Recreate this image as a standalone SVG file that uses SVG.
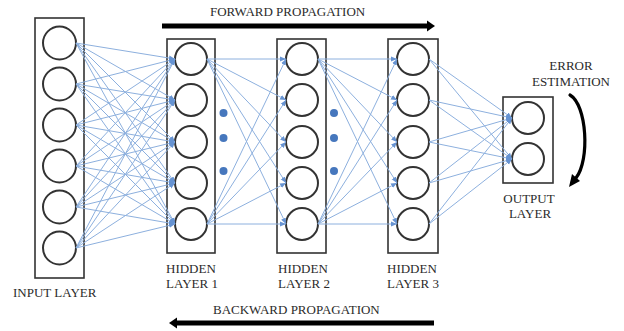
<svg xmlns="http://www.w3.org/2000/svg" width="624" height="331" viewBox="0 0 624 331">
<defs>
<style>
.box{fill:#fff;stroke:#333;stroke-width:1.6}
.node{fill:#fff;stroke:#333;stroke-width:2}
.lbl{font-family:"Liberation Serif","Times New Roman",serif;font-size:13px;fill:#2b2b2b}
.c line{stroke:#8db0de;stroke-width:1}
.dot{fill:#4677bd}
</style>
<marker id="ah" markerUnits="userSpaceOnUse" markerWidth="7" markerHeight="6" refX="6" refY="3" orient="auto">
<path d="M0,0.5 L6,3 L0,5.5 Z" fill="#6693d2"/>
</marker>
</defs>
<rect width="624" height="331" fill="#fff"/>

<g id="input-layer">
<rect class="box" x="35" y="18" width="49" height="260"/>
<circle class="node" cx="59.5" cy="43" r="16.5"/>
<circle class="node" cx="59.5" cy="84" r="16.5"/>
<circle class="node" cx="59.5" cy="125" r="16.5"/>
<circle class="node" cx="59.5" cy="166" r="16.5"/>
<circle class="node" cx="59.5" cy="207" r="16.5"/>
<circle class="node" cx="59.5" cy="248" r="16.5"/>
<text class="lbl" x="13" y="297">INPUT LAYER</text>
</g>

<g id="hidden-layer-1">
<rect class="box" x="167" y="39" width="48" height="214"/>
<circle class="node" cx="191" cy="59" r="16"/>
<circle class="node" cx="191" cy="100" r="16"/>
<circle class="node" cx="191" cy="142" r="16"/>
<circle class="node" cx="191" cy="183" r="16"/>
<circle class="node" cx="191" cy="224" r="16"/>
<text class="lbl" x="166" y="273">HIDDEN</text>
<text class="lbl" x="166" y="288">LAYER 1</text>
</g>

<g id="hidden-layer-2">
<rect class="box" x="277" y="39" width="49" height="214"/>
<circle class="node" cx="302" cy="59" r="16"/>
<circle class="node" cx="302" cy="100" r="16"/>
<circle class="node" cx="302" cy="142" r="16"/>
<circle class="node" cx="302" cy="183" r="16"/>
<circle class="node" cx="302" cy="224" r="16"/>
<text class="lbl" x="278" y="273">HIDDEN</text>
<text class="lbl" x="278" y="288">LAYER 2</text>
</g>

<g id="hidden-layer-3">
<rect class="box" x="388" y="39" width="50" height="214"/>
<circle class="node" cx="413" cy="59" r="16"/>
<circle class="node" cx="413" cy="100" r="16"/>
<circle class="node" cx="413" cy="142" r="16"/>
<circle class="node" cx="413" cy="183" r="16"/>
<circle class="node" cx="413" cy="224" r="16"/>
<text class="lbl" x="387" y="273">HIDDEN</text>
<text class="lbl" x="387" y="288">LAYER 3</text>
</g>

<g id="output-layer">
<rect class="box" x="503" y="97" width="50" height="86"/>
<circle class="node" cx="528" cy="118" r="16"/>
<circle class="node" cx="528" cy="159" r="16"/>
<text class="lbl" x="529" y="203" text-anchor="middle">OUTPUT</text>
<text class="lbl" x="530" y="218" text-anchor="middle">LAYER</text>
</g>

<g id="dots-1">
<circle class="dot" cx="223.5" cy="113" r="4"/>
<circle class="dot" cx="223.5" cy="138" r="4"/>
<circle class="dot" cx="223.5" cy="171" r="4"/>
</g>
<g id="dots-2">
<circle class="dot" cx="334" cy="113" r="4"/>
<circle class="dot" cx="334" cy="138" r="4"/>
<circle class="dot" cx="334" cy="171" r="4"/>
</g>

<g id="connectors" class="c">
<line x1="76" y1="43" x2="175" y2="59" marker-end="url(#ah)"/>
<line x1="76" y1="43" x2="175" y2="100" marker-end="url(#ah)"/>
<line x1="76" y1="43" x2="175" y2="142" marker-end="url(#ah)"/>
<line x1="76" y1="43" x2="175" y2="183" marker-end="url(#ah)"/>
<line x1="76" y1="43" x2="175" y2="224" marker-end="url(#ah)"/>
<line x1="76" y1="84" x2="175" y2="59" marker-end="url(#ah)"/>
<line x1="76" y1="84" x2="175" y2="100" marker-end="url(#ah)"/>
<line x1="76" y1="84" x2="175" y2="142" marker-end="url(#ah)"/>
<line x1="76" y1="84" x2="175" y2="183" marker-end="url(#ah)"/>
<line x1="76" y1="84" x2="175" y2="224" marker-end="url(#ah)"/>
<line x1="76" y1="125" x2="175" y2="59" marker-end="url(#ah)"/>
<line x1="76" y1="125" x2="175" y2="100" marker-end="url(#ah)"/>
<line x1="76" y1="125" x2="175" y2="142" marker-end="url(#ah)"/>
<line x1="76" y1="125" x2="175" y2="183" marker-end="url(#ah)"/>
<line x1="76" y1="125" x2="175" y2="224" marker-end="url(#ah)"/>
<line x1="76" y1="166" x2="175" y2="59" marker-end="url(#ah)"/>
<line x1="76" y1="166" x2="175" y2="100" marker-end="url(#ah)"/>
<line x1="76" y1="166" x2="175" y2="142" marker-end="url(#ah)"/>
<line x1="76" y1="166" x2="175" y2="183" marker-end="url(#ah)"/>
<line x1="76" y1="166" x2="175" y2="224" marker-end="url(#ah)"/>
<line x1="76" y1="207" x2="175" y2="59" marker-end="url(#ah)"/>
<line x1="76" y1="207" x2="175" y2="100" marker-end="url(#ah)"/>
<line x1="76" y1="207" x2="175" y2="142" marker-end="url(#ah)"/>
<line x1="76" y1="207" x2="175" y2="183" marker-end="url(#ah)"/>
<line x1="76" y1="207" x2="175" y2="224" marker-end="url(#ah)"/>
<line x1="76" y1="248" x2="175" y2="59" marker-end="url(#ah)"/>
<line x1="76" y1="248" x2="175" y2="100" marker-end="url(#ah)"/>
<line x1="76" y1="248" x2="175" y2="142" marker-end="url(#ah)"/>
<line x1="76" y1="248" x2="175" y2="183" marker-end="url(#ah)"/>
<line x1="76" y1="248" x2="175" y2="224" marker-end="url(#ah)"/>

<line x1="207" y1="59" x2="286" y2="59" marker-end="url(#ah)"/>
<line x1="207" y1="59" x2="286" y2="100" marker-end="url(#ah)"/>
<line x1="207" y1="59" x2="286" y2="142" marker-end="url(#ah)"/>
<line x1="207" y1="59" x2="286" y2="183" marker-end="url(#ah)"/>
<line x1="207" y1="59" x2="286" y2="224" marker-end="url(#ah)"/>
<line x1="207" y1="224" x2="286" y2="59" marker-end="url(#ah)"/>
<line x1="207" y1="224" x2="286" y2="100" marker-end="url(#ah)"/>
<line x1="207" y1="224" x2="286" y2="142" marker-end="url(#ah)"/>
<line x1="207" y1="224" x2="286" y2="183" marker-end="url(#ah)"/>
<line x1="207" y1="224" x2="286" y2="224" marker-end="url(#ah)"/>

<line x1="318" y1="59" x2="397" y2="59" marker-end="url(#ah)"/>
<line x1="318" y1="59" x2="397" y2="100" marker-end="url(#ah)"/>
<line x1="318" y1="59" x2="397" y2="142" marker-end="url(#ah)"/>
<line x1="318" y1="59" x2="397" y2="183" marker-end="url(#ah)"/>
<line x1="318" y1="59" x2="397" y2="224" marker-end="url(#ah)"/>
<line x1="318" y1="224" x2="397" y2="59" marker-end="url(#ah)"/>
<line x1="318" y1="224" x2="397" y2="100" marker-end="url(#ah)"/>
<line x1="318" y1="224" x2="397" y2="142" marker-end="url(#ah)"/>
<line x1="318" y1="224" x2="397" y2="183" marker-end="url(#ah)"/>
<line x1="318" y1="224" x2="397" y2="224" marker-end="url(#ah)"/>

<line x1="429" y1="59" x2="512" y2="118" marker-end="url(#ah)"/>
<line x1="429" y1="59" x2="512" y2="159" marker-end="url(#ah)"/>
<line x1="429" y1="100" x2="512" y2="118" marker-end="url(#ah)"/>
<line x1="429" y1="100" x2="512" y2="159" marker-end="url(#ah)"/>
<line x1="429" y1="142" x2="512" y2="118" marker-end="url(#ah)"/>
<line x1="429" y1="142" x2="512" y2="159" marker-end="url(#ah)"/>
<line x1="429" y1="183" x2="512" y2="118" marker-end="url(#ah)"/>
<line x1="429" y1="183" x2="512" y2="159" marker-end="url(#ah)"/>
<line x1="429" y1="224" x2="512" y2="118" marker-end="url(#ah)"/>
<line x1="429" y1="224" x2="512" y2="159" marker-end="url(#ah)"/>
</g>

<g id="forward-propagation">
<line x1="162" y1="26" x2="429" y2="26" stroke="#000" stroke-width="5"/>
<path d="M427,20.5 L435,26 L427,31.5 Z" fill="#000"/>
<text class="lbl" x="210" y="16">FORWARD PROPAGATION</text>
</g>

<g id="backward-propagation">
<line x1="175" y1="323" x2="434" y2="323" stroke="#000" stroke-width="5"/>
<path d="M177,317.5 L169,323 L177,328.5 Z" fill="#000"/>
<text class="lbl" x="213" y="314">BACKWARD PROPAGATION</text>
</g>

<g id="error-estimation">
<path d="M570,95 C587,105 590,160 576,178" fill="none" stroke="#000" stroke-width="3.2" stroke-linecap="round"/>
<path d="M569,187 L572,174 L580,181 Z" fill="#000"/>
<text class="lbl" x="571" y="70" text-anchor="middle">ERROR</text>
<text class="lbl" x="571" y="86" text-anchor="middle">ESTIMATION</text>
</g>
</svg>
